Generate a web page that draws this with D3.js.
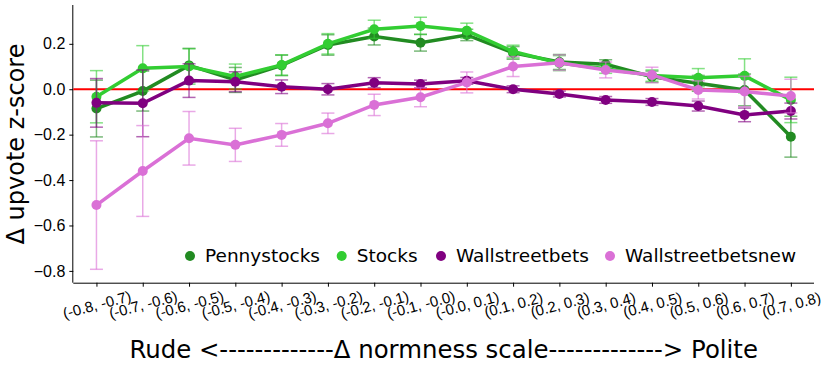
<!DOCTYPE html>
<html>
<head>
<meta charset="utf-8">
<script src="https://cdn.jsdelivr.net/npm/d3@7"></script>
<style>
body { margin: 0; background: #fff; }
svg { font-family: "DejaVu Sans", sans-serif; }
</style>
</head>
<body>
<div id="chart"></div>
<script>
var categories = ["(-0.8, -0.7)", "(-0.7, -0.6)", "(-0.6, -0.5)", "(-0.5, -0.4)", "(-0.4, -0.3)", "(-0.3, -0.2)",
	"(-0.2, -0.1)", "(-0.1, -0.0)", "(-0.0, 0.1)", "(0.1, 0.2)", "(0.2, 0.3)", "(0.3, 0.4)",
	"(0.4, 0.5)", "(0.5, 0.6)", "(0.6, 0.7)", "(0.7, 0.8)"];

var pennystocks = [-0.085, -0.008, 0.105, 0.041, 0.105, 0.195, 0.232, 0.205, 0.239, 0.16, 0.12, 0.11, 0.055, 0.026, -0.003, -0.209];
var pennystocksErr = [0.125, 0.088, 0.075, 0.055, 0.045, 0.045, 0.037, 0.037, 0.025, 0.028, 0.033, 0.02, 0.025, 0.035, 0.07, 0.09];

var stocks = [-0.033, 0.092, 0.1, 0.056, 0.107, 0.2, 0.264, 0.279, 0.258, 0.166, 0.115, 0.09, 0.06, 0.051, 0.059, -0.047];
var stocksErr = [0.115, 0.1, 0.078, 0.055, 0.045, 0.045, 0.04, 0.038, 0.033, 0.028, 0.033, 0.02, 0.025, 0.04, 0.075, 0.1];

var wallstreetbets = [-0.06, -0.062, 0.038, 0.033, 0.011, 0.0, 0.029, 0.023, 0.037, 0.0, -0.021, -0.047, -0.056, -0.074, -0.113, -0.096];
var wallstreetbetsErr = [0.107, 0.147, 0.074, 0.044, 0.03, 0.025, 0.022, 0.017, 0.015, 0.015, 0.013, 0.015, 0.015, 0.022, 0.03, 0.035];

var wallstreetbetsnew = [-0.51, -0.36, -0.216, -0.245, -0.201, -0.15, -0.069, -0.035, 0.03, 0.1, 0.117, 0.085, 0.063, -0.003, -0.01, -0.03];
var wallstreetbetsnewErr = [0.283, 0.2, 0.118, 0.073, 0.05, 0.045, 0.047, 0.042, 0.046, 0.044, 0.034, 0.035, 0.034, 0.04, 0.067, 0.074];

var seriesNames = ["Pennystocks", "Stocks", "Wallstreetbets", "Wallstreetbetsnew"];
var seriesColors = ["#228b22", "#32cd32", "#800080", "#da70d6"];
var yTicks = [0.2, 0.0, -0.2, -0.4, -0.6, -0.8];

var series = [
	{name: seriesNames[0], color: seriesColors[0], values: pennystocks, err: pennystocksErr},
	{name: seriesNames[1], color: seriesColors[1], values: stocks, err: stocksErr},
	{name: seriesNames[2], color: seriesColors[2], values: wallstreetbets, err: wallstreetbetsErr},
	{name: seriesNames[3], color: seriesColors[3], values: wallstreetbetsnew, err: wallstreetbetsnewErr}
];

var svgWidth = 831;
var svgHeight = 367;
var plotLeft = 73.3, plotRight = 814, plotTop = 5, plotBottom = 282.7;

var svg = d3.select("#chart").append("svg")
	.attr("width", svgWidth)
	.attr("height", svgHeight);

var x = d3.scalePoint()
	.domain(categories)
	.range([plotLeft, plotRight])
	.padding(0.5);

var y = d3.scaleLinear()
	.domain([-0.852, 0.371])
	.range([plotBottom, plotTop]);

var fmt = function(d){ return d3.format(".1f")(d).replace("-", "\u2212"); };

// y axis
var yAxis = svg.append("g")
	.attr("transform", "translate(" + plotLeft + ",0)")
	.call(d3.axisLeft(y).tickValues(yTicks).tickFormat(fmt).tickSize(4).tickPadding(4));
yAxis.select(".domain").attr("d", "M-0.5," + plotTop + "V" + plotBottom);
yAxis.selectAll("text").style("font-size", "16px").attr("fill", "#000");

// x axis
var xAxis = svg.append("g")
	.attr("transform", "translate(0," + plotBottom + ")")
	.call(d3.axisBottom(x).tickSize(4).tickSizeOuter(0));
xAxis.select(".domain").attr("d", "M" + plotLeft + ",0.5H" + plotRight);
xAxis.selectAll("text")
	.style("font-size", "15px")
	.attr("fill", "#000")
	.style("text-anchor", "middle")
	.attr("y", 0)
	.attr("dy", "0.35em")
	.attr("transform", "translate(0,22) rotate(-15)");

svg.selectAll(".domain, .tick line").attr("stroke", "#000").attr("stroke-width", 1);

// zero line
svg.append("line")
	.attr("x1", plotLeft).attr("x2", plotRight)
	.attr("y1", y(0)).attr("y2", y(0))
	.attr("stroke", "red")
	.attr("stroke-width", 2);

var line = d3.line()
	.x(function(d, i){ return x(categories[i]); })
	.y(function(d){ return y(d); });

series.forEach(function(s){
	var g = svg.append("g");

	// error bars
	var bars = g.selectAll(".err")
		.data(s.values)
		.enter().append("g")
		.attr("stroke", s.color)
		.attr("stroke-opacity", 0.6)
		.attr("stroke-width", 1.5);
	bars.append("line")
		.attr("x1", function(d, i){ return x(categories[i]); })
		.attr("x2", function(d, i){ return x(categories[i]); })
		.attr("y1", function(d, i){ return y(d + s.err[i]); })
		.attr("y2", function(d, i){ return y(d - s.err[i]); });
	bars.append("line")
		.attr("x1", function(d, i){ return x(categories[i]) - 6.5; })
		.attr("x2", function(d, i){ return x(categories[i]) + 6.5; })
		.attr("y1", function(d, i){ return y(d + s.err[i]); })
		.attr("y2", function(d, i){ return y(d + s.err[i]); });
	bars.append("line")
		.attr("x1", function(d, i){ return x(categories[i]) - 6.5; })
		.attr("x2", function(d, i){ return x(categories[i]) + 6.5; })
		.attr("y1", function(d, i){ return y(d - s.err[i]); })
		.attr("y2", function(d, i){ return y(d - s.err[i]); });

	g.append("path")
		.attr("d", line(s.values))
		.attr("fill", "none")
		.attr("stroke", s.color)
		.attr("stroke-width", 3.5);

	g.selectAll("circle")
		.data(s.values)
		.enter().append("circle")
		.attr("cx", function(d, i){ return x(categories[i]); })
		.attr("cy", function(d){ return y(d); })
		.attr("r", 5)
		.attr("fill", s.color);
});

// legend
var legendX = [190, 341.7, 441, 610];
var legend = svg.append("g");
series.forEach(function(s, i){
	legend.append("circle")
		.attr("cx", legendX[i]).attr("cy", 256)
		.attr("r", 5)
		.attr("fill", s.color);
	legend.append("text")
		.attr("x", legendX[i] + 15).attr("y", 256)
		.attr("dy", "0.35em")
		.style("font-size", "18.5px")
		.text(s.name);
});

// axis labels
svg.append("text")
	.attr("transform", "rotate(-90)")
	.attr("x", -144)
	.attr("y", 24)
	.style("text-anchor", "middle")
	.style("font-size", "24px")
	.text("\u0394 upvote z-score");

svg.append("text")
	.attr("x", (plotLeft + plotRight) / 2)
	.attr("y", 358)
	.style("text-anchor", "middle")
	.style("font-size", "24.4px")
	.text("Rude <-------------\u0394 normness scale-------------> Polite");
</script>
</body>
</html>
